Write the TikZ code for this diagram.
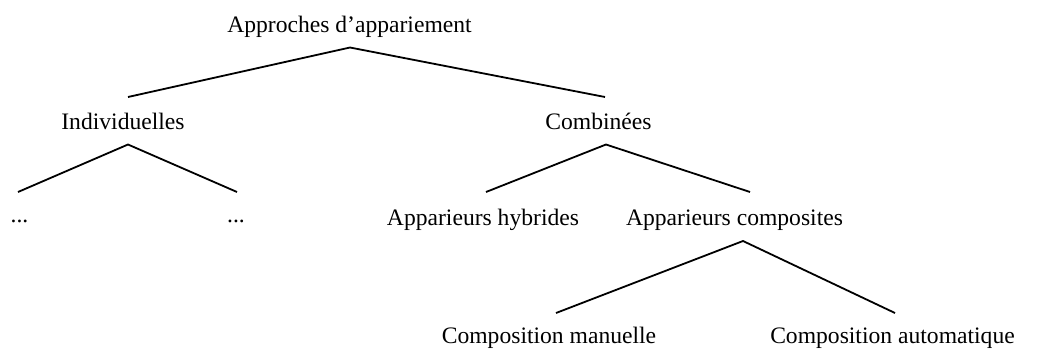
\documentclass[tikz,border=0pt]{standalone}
\usepackage{fontspec}
\setmainfont{Liberation Serif}
\begin{document}
\begin{tikzpicture}[x=1pt,y=-1pt,
  lbl/.style={inner sep=0pt, anchor=base, font=\fontsize{23.6}{28}\selectfont},
  branch/.style={line width=1.8pt, line join=miter}]
\useasboundingbox (0,0) rectangle (1039,349);
% labels
\node[lbl] (root) at (349.5,32) {Approches d’appariement};
\node[lbl] (ind) at (123,129.5) {Individuelles};
\node[lbl] (comb) at (598.5,129.5) {Combinées};
\node[lbl] (dotsA) at (19.5,222) {...};
\node[lbl] (dotsB) at (236,222) {...};
\node[lbl] (hyb) at (483,225) {Apparieurs hybrides};
\node[lbl] (compo) at (734.5,225) {Apparieurs composites};
\node[lbl] (man) at (549,343) {Composition manuelle};
\node[lbl] (auto) at (892.5,343) {Composition automatique};
% branch points
\coordinate (rootApex) at (350,47.5);
\coordinate (rootL) at (128,97);
\coordinate (rootR) at (605,97);
\coordinate (indApex) at (128,144.5);
\coordinate (indL) at (18,192);
\coordinate (indR) at (237,192);
\coordinate (combApex) at (606,144.5);
\coordinate (combL) at (486,192);
\coordinate (combR) at (750,192);
\coordinate (compoApex) at (743,241);
\coordinate (compoL) at (556,313);
\coordinate (compoR) at (895,313);
% connectors
\draw[branch] (rootL) -- (rootApex) -- (rootR);
\draw[branch] (indL) -- (indApex) -- (indR);
\draw[branch] (combL) -- (combApex) -- (combR);
\draw[branch] (compoL) -- (compoApex) -- (compoR);
\end{tikzpicture}
\end{document}
